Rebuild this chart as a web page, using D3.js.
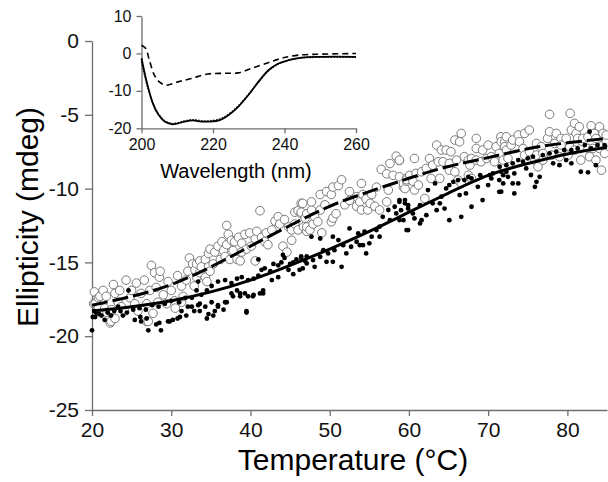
<!DOCTYPE html>
<html>
<head>
<meta charset="utf-8">
<script src="https://cdn.jsdelivr.net/npm/d3@7"></script>
<style>
  body { margin: 0; background: #fff; }
  svg { display: block; font-family: "Liberation Sans", Arial, sans-serif; }
  .axis path, .axis line { stroke: #6e6e6e; stroke-width: 1.5; }
  .axis text { fill: #111; }
</style>
</head>
<body>
<script>
// main plot: temperature melt, open circles (sample A) and filled dots (sample B)
let openCircles = [
  [20.2,-17.8],[20.3,-17.0],[20.4,-17.8],[20.8,-18.1],[20.8,-17.4],[21.0,-17.3],[21.4,-16.9],[21.6,-18.1],
  [21.8,-17.3],[21.9,-18.4],[22.2,-18.3],[22.3,-19.1],[22.4,-19.0],[22.5,-18.2],[22.7,-16.5],[22.9,-17.1],
  [22.9,-18.8],[23.3,-17.7],[23.5,-16.9],[23.7,-18.0],[24.1,-18.3],[24.3,-16.2],[24.8,-17.4],[25.0,-16.9],
  [25.4,-17.8],[25.6,-16.4],[25.8,-18.3],[26.2,-17.1],[26.6,-16.2],[26.9,-17.8],[26.9,-19.0],[27.1,-19.0],
  [27.3,-16.9],[27.5,-15.2],[27.7,-18.45],[27.9,-15.7],[28.1,-16.7],[28.3,-17.7],[28.5,-16.0],[28.6,-15.6],
  [29.0,-17.2],[29.4,-17.8],[29.6,-16.3],[30.0,-16.9],[30.4,-17.6],[30.5,-18.1],[30.8,-15.9],[31.3,-16.6],
  [31.3,-17.7],[31.5,-17.3],[31.9,-16.2],[32.1,-15.6],[32.3,-14.7],[32.7,-15.1],[32.9,-16.6],[33.2,-16.0],
  [33.4,-15.4],[33.0,-15.5],[33.2,-15.1],[33.6,-14.9],[33.6,-15.7],[33.8,-15.3],[34.3,-14.8],[34.3,-16.0],
  [34.5,-16.3],[34.7,-14.4],[34.7,-15.3],[34.9,-14.1],[34.9,-15.6],[35.3,-15.1],[35.5,-14.3],[35.9,-13.9],
  [36.2,-14.8],[36.4,-13.6],[36.6,-14.2],[36.8,-14.6],[37.0,-12.5],[37.0,-13.8],[37.2,-13.1],[37.4,-14.8],
  [37.6,-13.5],[37.8,-14.2],[38.0,-13.6],[38.3,-14.8],[38.5,-13.3],[38.7,-14.9],[38.9,-13.7],[38.9,-14.3],
  [39.3,-13.1],[39.5,-14.1],[39.9,-13.0],[40.1,-13.9],[40.6,-13.4],[40.6,-14.9],[40.8,-12.9],[41.2,-11.5],
  [41.4,-13.3],[41.8,-13.6],[42.0,-13.0],[42.2,-13.8],[42.7,-12.8],[43.1,-12.2],[43.5,-11.9],[43.7,-12.4],
  [44.1,-13.9],[44.3,-12.1],[44.6,-14.3],[44.8,-12.6],[45.2,-12.8],[45.2,-13.5],[45.6,-11.6],[45.6,-12.4],
  [46.0,-11.5],[46.0,-12.8],[46.4,-11.0],[46.4,-11.7],[46.4,-11.6],[46.6,-11.0],[46.7,-12.6],[46.9,-12.0],
  [47.1,-12.9],[47.1,-12.6],[47.1,-11.7],[47.5,-12.8],[47.7,-11.45],[47.7,-10.9],[47.9,-12.4],[48.1,-11.9],
  [48.5,-12.25],[48.8,-10.4],[48.8,-11.45],[49.0,-13.0],[49.4,-11.1],[49.6,-10.2],[50.2,-10.4],[50.2,-12.25],
  [50.4,-9.9],[50.4,-12.0],[50.8,-11.7],[51.1,-9.8],[51.5,-9.4],[51.9,-11.1],[52.5,-10.2],[52.5,-10.8],
  [53.4,-10.55],[53.4,-11.2],[53.8,-10.9],[54.0,-9.65],[54.0,-11.45],[54.2,-10.4],[54.6,-10.7],[54.8,-11.45],
  [55.1,-11.0],[55.3,-10.4],[55.7,-11.2],[55.9,-9.9],[56.3,-11.45],[56.5,-8.7],[57.2,-9.0],[57.2,-10.9],
  [57.4,-10.1],[57.6,-8.3],[58.0,-9.1],[58.4,-7.8],[58.8,-8.1],[58.8,-9.2],[58.8,-8.07],[59.3,-9.9],
  [59.3,-9.65],[59.5,-10.0],[59.7,-9.3],[59.7,-9.5],[59.7,-9.4],[60.1,-9.1],[60.5,-9.5],[60.7,-7.96],
  [60.7,-10.1],[60.9,-8.97],[61.2,-9.76],[61.6,-8.86],[62.0,-10.67],[62.2,-8.63],[62.6,-7.96],[62.8,-9.31],
  [63.0,-8.41],[63.5,-7.05],[63.7,-8.18],[63.9,-9.31],[64.1,-7.39],[64.3,-8.18],[64.7,-7.39],[65.1,-8.29],
  [65.1,-8.75],[65.3,-7.5],[65.8,-6.71],[65.8,-8.86],[66.0,-8.07],[66.2,-9.42],[66.4,-6.83],[66.6,-6.26],
  [66.6,-9.65],[67.0,-7.84],[67.5,-8.07],[67.5,-9.09],[67.7,-8.41],[67.9,-7.96],[67.9,-9.31],[68.5,-6.6],
  [68.5,-7.28],[68.5,-8.07],[69.1,-8.18],[69.3,-7.39],[69.8,-7.96],[70.0,-7.05],[70.4,-7.84],[70.8,-8.18],
  [71.0,-7.16],[71.4,-7.62],[71.6,-6.49],[71.65,-6.82],[71.9,-8.07],[72.1,-6.83],[72.1,-7.16],[72.3,-7.39],
  [72.3,-6.49],[72.5,-7.95],[72.9,-7.05],[73.1,-6.71],[73.8,-6.37],[73.95,-6.82],[74.4,-7.28],[74.6,-6.26],
  [74.6,-7.73],[75.2,-6.03],[75.2,-7.5],[75.9,-8.07],[76.1,-7.73],[76.1,-6.94],[76.3,-8.52],[76.7,-7.16],
  [76.9,-7.62],[76.9,-8.07],[77.5,-6.6],[77.75,-4.97],[77.75,-6.15],[78.0,-7.73],[78.4,-6.94],[78.6,-6.26],
  [79.0,-7.84],[79.2,-6.6],[79.2,-7.05],[79.85,-6.6],[80.1,-7.73],[80.3,-7.16],[80.35,-4.9],[80.5,-6.03],
  [80.9,-5.58],[80.9,-7.39],[81.1,-6.26],[81.3,-6.6],[81.5,-5.81],[81.7,-7.28],[81.7,-8.07],[81.95,-6.82],
  [81.95,-6.6],[82.6,-6.49],[82.6,-7.28],[82.8,-7.84],[83.0,-5.74],[83.2,-7.28],[83.4,-6.26],[83.6,-8.07],
  [83.6,-6.6],[84.05,-5.81],[84.05,-7.28],[84.3,-8.75],[84.5,-6.26],[84.5,-7.05],[84.7,-7.62],[84.9,-6.82],
  [84.9,-6.37]
]

let filledDots = [
  [20.0,-19.6],[20.1,-18.7],[20.3,-18.3],[20.4,-18.7],[20.5,-18.4],[20.9,-18.5],[21.2,-18.6],[21.6,-18.9],
  [22.0,-18.4],[22.4,-18.6],[22.8,-18.3],[23.3,-18.0],[23.6,-18.3],[23.9,-18.6],[24.4,-18.4],[24.6,-16.9],
  [25.2,-18.2],[25.4,-18.9],[26.0,-18.1],[26.1,-18.7],[26.2,-19.0],[26.8,-18.2],[26.9,-18.8],[27.1,-19.6],
  [27.6,-17.9],[28.1,-19.2],[28.4,-18.0],[28.5,-19.1],[28.7,-19.6],[29.2,-17.8],[29.6,-19.0],[29.8,-19.0],
  [30.0,-17.6],[30.2,-18.9],[30.8,-18.8],[31.0,-17.7],[31.1,-18.7],[31.3,-18.3],[31.8,-17.4],[31.9,-18.6],
  [32.1,-18.0],[32.6,-17.4],[32.6,-18.0],[32.9,-18.3],[33.2,-16.9],[33.4,-16.3],[33.4,-17.9],[33.6,-17.8],
  [33.6,-18.3],[33.8,-17.2],[34.3,-18.0],[34.5,-16.9],[34.5,-18.8],[34.7,-18.5],[35.1,-16.6],[35.1,-17.7],
  [35.3,-18.6],[35.5,-18.3],[35.9,-16.3],[35.9,-17.9],[35.9,-18.0],[36.6,-18.2],[36.8,-16.2],[36.8,-17.7],
  [37.0,-17.7],[37.6,-16.4],[37.6,-17.1],[37.8,-17.3],[38.3,-16.1],[38.3,-16.9],[38.7,-17.3],[38.7,-17.1],
  [38.9,-16.0],[39.3,-17.1],[39.5,-18.3],[39.5,-18.4],[39.7,-16.2],[39.7,-17.3],[40.3,-17.3],[40.4,-16.1],
  [40.4,-17.2],[41.0,-15.9],[41.0,-14.8],[41.2,-17.1],[41.4,-15.5],[41.6,-16.9],[41.6,-17.1],[41.8,-15.4],
  [42.5,-15.6],[42.7,-16.2],[42.9,-15.1],[43.5,-15.2],[43.5,-16.0],[43.9,-15.0],[44.1,-14.5],[44.3,-14.7],
  [44.8,-15.5],[45.0,-15.1],[45.4,-15.0],[45.4,-15.8],[45.8,-14.8],[46.2,-15.5],[46.4,-14.7],[46.4,-14.6],
  [46.6,-15.41],[46.9,-14.9],[47.1,-14.6],[47.1,-15.07],[47.7,-13.26],[47.9,-14.84],[48.1,-15.3],[48.8,-13.38],
  [48.8,-14.62],[49.2,-14.17],[49.6,-14.96],[49.8,-14.39],[50.4,-13.26],[50.4,-14.96],[50.6,-14.17],[51.1,-13.49],
  [51.5,-15.3],[51.7,-13.83],[52.1,-14.39],[52.5,-12.7],[52.7,-13.94],[53.4,-13.6],[53.6,-13.04],[53.8,-13.83],
  [54.2,-13.83],[54.4,-12.92],[54.6,-14.39],[55.0,-13.71],[55.3,-13.26],[55.9,-12.81],[56.3,-13.26],[56.3,-12.58],
  [56.7,-11.91],[57.4,-11.45],[57.6,-12.13],[58.2,-11.23],[58.4,-11.68],[58.8,-10.89],[58.8,-12.13],[58.8,-10.78],
  [59.0,-11.46],[59.3,-12.14],[59.5,-10.78],[59.5,-11.0],[59.7,-12.81],[59.9,-11.12],[59.9,-11.35],[59.9,-12.81],
  [60.5,-11.68],[60.7,-12.02],[61.4,-11.12],[61.4,-12.36],[61.6,-12.14],[62.2,-11.8],[62.4,-10.1],[63.0,-11.0],
  [63.3,-9.65],[63.5,-11.46],[63.9,-11.0],[64.1,-10.55],[64.5,-11.35],[64.7,-9.99],[65.1,-9.76],[65.1,-12.14],
  [65.6,-9.54],[66.2,-9.42],[66.4,-10.44],[66.6,-11.91],[67.0,-9.42],[67.2,-10.33],[67.5,-9.2],[67.9,-9.31],
  [67.9,-11.23],[68.7,-9.88],[69.0,-9.09],[69.3,-10.78],[70.0,-9.76],[70.2,-9.09],[70.4,-9.31],[70.6,-8.97],
  [71.4,-10.22],[71.4,-9.42],[71.45,-8.52],[71.65,-8.86],[71.65,-10.21],[71.9,-9.09],[71.9,-9.65],[72.3,-8.86],
  [72.3,-8.41],[72.5,-9.2],[73.1,-8.29],[73.1,-9.65],[73.3,-8.97],[73.3,-10.33],[73.8,-8.07],[73.8,-9.65],
  [74.4,-8.18],[74.8,-8.63],[75.0,-7.95],[75.4,-9.08],[75.65,-7.84],[75.9,-9.88],[76.1,-9.54],[76.5,-9.2],
  [76.9,-7.73],[77.75,-7.62],[78.2,-8.29],[78.6,-7.5],[79.0,-8.41],[79.6,-7.39],[79.85,-8.07],[80.5,-7.39],
  [80.5,-8.29],[81.3,-7.28],[81.7,-8.86],[82.2,-7.05],[82.6,-8.9],[82.8,-6.15],[83.0,-7.28],[83.6,-8.41],
  [83.8,-7.05],[84.7,-7.05]
]

// fitted curves
let fitTemps  = [20, 25, 30, 35, 40, 45, 50, 55, 60, 65, 70, 75, 80, 85]
let fitOpen   = [-17.9, -17.3, -16.5, -15.3, -13.9, -12.5, -11.2, -10.2, -9.3, -8.5, -7.9, -7.3, -6.9, -6.6]
let fitFilled = [-18.3, -18.0, -17.6, -17.0, -16.2, -15.2, -14.1, -12.9, -11.6, -10.3, -9.1, -8.3, -7.65, -7.2]

// inset: CD spectra
let wlSolid  = [200, 200.8, 201.8, 203.2, 204.6, 206.5, 208.4, 210.2, 212.1, 214.4, 216.8, 219.1, 221.9, 224.3, 227.1, 229.9, 232.7, 235.5, 238.3, 241.1, 244.8, 250.4, 260]
let cdSolid  = [-1.3, -4.9, -8.9, -13.4, -16.1, -18.2, -18.9, -18.7, -18.2, -17.9, -18.2, -18.2, -17.8, -16.5, -14.2, -11.1, -7.6, -4.5, -2.7, -1.8, -1.1, -0.9, -0.9]
let cdDotted = [-2.2, -5.6, -9.3, -13.3, -16.0, -18.0, -18.7, -18.5, -18.0, -17.7, -18.0, -18.0, -17.5, -16.3, -14.0, -11.0, -7.6, -4.6, -2.8, -1.8, -1.2, -1.0, -1.0]
let wlDashed = [200, 201.2, 202.2, 203.6, 205, 206.8, 210.2, 213.9, 218.6, 223.2, 227, 230.8, 235.4, 239.2, 243.9, 250.4, 260]
let cdDashed = [2.2, 1.3, -1.8, -5.8, -7.6, -8.5, -7.6, -6.7, -5.5, -5.3, -5.2, -4.0, -2.5, -1.3, -0.45, -0.2, 0]

let mainXTicks = [20, 30, 40, 50, 60, 70, 80]
let mainYTicks = [0, -5, -10, -15, -20, -25]
let insetXTicks = [200, 220, 240, 260]
let insetYTicks = [10, 0, -10, -20]

draw()

function draw() {
    let svg = d3.select("body").append("svg")
        .attr("width", 608)
        .attr("height", 482)

    let x = d3.scaleLinear().domain([20, 85]).range([92, 607])
    let y = d3.scaleLinear().domain([-25, 0]).range([410, 41])
    let plain = d => String(d)   // hyphen minus like the original

    // axes
    svg.append("g").attr("class", "axis")
        .attr("transform", "translate(0,410)")
        .call(d3.axisBottom(x).tickValues(mainXTicks).tickSizeInner(6).tickSizeOuter(0).tickPadding(6).tickFormat(plain))
        .selectAll("text").style("font-size", "21px")
    svg.append("g").attr("class", "axis")
        .attr("transform", "translate(92,0)")
        .call(d3.axisLeft(y).tickValues(mainYTicks).tickSizeInner(7).tickSizeOuter(0).tickPadding(6).tickFormat(plain))
        .selectAll("text").style("font-size", "21px")

    svg.append("text")
        .attr("x", 353).attr("y", 470)
        .attr("text-anchor", "middle")
        .style("font-size", "30px")
        .text("Temperature (°C)")
    svg.append("text")
        .attr("transform", "translate(38,217) rotate(-90)")
        .attr("text-anchor", "middle")
        .style("font-size", "30px")
        .text("Ellipticity (mdeg)")

    // scatter
    svg.append("g").selectAll("circle")
        .data(openCircles)
        .enter()
        .append("circle")
            .attr("cx", d => x(d[0]))
            .attr("cy", d => y(d[1]))
            .attr("r", 4.3)
            .style("fill", "#fff")
            .style("stroke", "#7a7a7a")
            .style("stroke-width", 1)
    svg.append("g").selectAll("circle")
        .data(filledDots)
        .enter()
        .append("circle")
            .attr("cx", d => x(d[0]))
            .attr("cy", d => y(d[1]))
            .attr("r", 2.4)
            .style("fill", "#000")

    let fitLine = d3.line()
        .x((d, i) => x(fitTemps[i]))
        .y(d => y(d))
        .curve(d3.curveNatural)
    svg.append("path")
        .attr("d", fitLine(fitOpen))
        .style("fill", "none")
        .style("stroke", "#000")
        .style("stroke-width", 3)
        .style("stroke-dasharray", "16,5")
    svg.append("path")
        .attr("d", fitLine(fitFilled))
        .style("fill", "none")
        .style("stroke", "#000")
        .style("stroke-width", 3)

    // inset
    let ix = d3.scaleLinear().domain([200, 260]).range([141.5, 356])
    let iy = d3.scaleLinear().domain([-20, 10]).range([128.3, 16])

    svg.append("g").attr("class", "axis")
        .attr("transform", "translate(0,128.3)")
        .call(d3.axisBottom(ix).tickValues(insetXTicks).tickSizeInner(5).tickSizeOuter(0).tickPadding(5).tickFormat(plain))
        .selectAll("text").style("font-size", "16px")
    svg.append("g").attr("class", "axis")
        .attr("transform", "translate(141.5,0)")
        .call(d3.axisLeft(iy).tickValues(insetYTicks).tickSizeInner(5).tickSizeOuter(0).tickPadding(5).tickFormat(plain))
        .selectAll("text").style("font-size", "16px")
    svg.selectAll(".axis path, .axis line").style("stroke-width", 1.3)

    svg.append("text")
        .attr("x", 236).attr("y", 178)
        .attr("text-anchor", "middle")
        .style("font-size", "20px")
        .text("Wavelength (nm)")

    let solidLine = d3.line()
        .x((d, i) => ix(wlSolid[i]))
        .y(d => iy(d))
        .curve(d3.curveCatmullRom)
    let dashLine = d3.line()
        .x((d, i) => ix(wlDashed[i]))
        .y(d => iy(d))
        .curve(d3.curveCatmullRom)
    svg.append("path")
        .attr("d", solidLine(cdDotted))
        .style("fill", "none")
        .style("stroke", "#222")
        .style("stroke-width", 1.6)
        .style("stroke-dasharray", "1.5,1.5")
    svg.append("path")
        .attr("d", solidLine(cdSolid))
        .style("fill", "none")
        .style("stroke", "#000")
        .style("stroke-width", 1.8)
    svg.append("path")
        .attr("d", dashLine(cdDashed))
        .style("fill", "none")
        .style("stroke", "#000")
        .style("stroke-width", 1.6)
        .style("stroke-dasharray", "6,4")
}
</script>
</body>
</html>
